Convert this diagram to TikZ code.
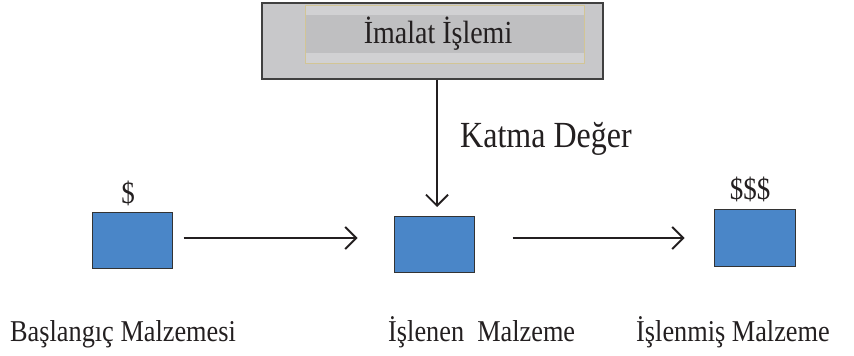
\documentclass[tikz,border=0pt]{standalone}
\usepackage{fontspec}
\setmainfont{Liberation Serif}
\usetikzlibrary{arrows.meta,calc}
\definecolor{txt}{HTML}{231F20}
\definecolor{boxblue}{HTML}{4A86C8}
\definecolor{outergray}{HTML}{C8C8CA}
\definecolor{innerlight}{HTML}{D1D1D3}
\definecolor{innerdark}{HTML}{BFBFC1}
\definecolor{tanedge}{HTML}{D2C595}
\tikzset{
  tall/.style={yscale=1.15},
  bluebox/.style={draw=black!80, line width=1pt, fill=boxblue, minimum width=80pt, minimum height=56pt, inner sep=0pt},
  lbl/.style={text=txt, inner sep=0pt, tall, font=\fontsize{26.3}{30}\selectfont},
  money/.style={text=txt, inner sep=0pt, tall, font=\fontsize{27}{30}\selectfont, anchor=base},
  arr/.style={draw=txt, line width=1.9pt, -{Straight Barb[length=11pt,width=22pt,line width=1.9pt]}}
}
\begin{document}
\begin{tikzpicture}[x=1pt,y=-1pt]
\useasboundingbox (0,0) rectangle (854,356);
% top process box
\node[draw=black!75, line width=1.3pt, fill=outergray, minimum width=341pt, minimum height=76pt, inner sep=0pt] (top) at (432.5,41) {};
\fill[innerlight] (305,5) rectangle (584,63);
\fill[innerdark] (305,15) rectangle (584,53);
\draw[tanedge, line width=1pt] (305,5) rectangle (584,63);
\node[text=txt, inner sep=0pt, anchor=base, tall, font=\fontsize{28}{30}\selectfont] (toptext) at (438,43) {İmalat İşlemi};
% boxes
\node[bluebox] (b1) at (132,240) {};
\node[bluebox] (b2) at (434,244.5) {};
\node[bluebox, minimum width=81pt, minimum height=57pt] (b3) at (754.5,237.5) {};
% money labels
\node[money] (m1) at (128,203) {\$};
\node[money] (m3) at (750,199) {\$\$\$};
% value added label
\node[text=txt, inner sep=0pt, anchor=base west, tall, font=\fontsize{32}{34}\selectfont] (kd) at (460,147) {Katma Değer};
% bottom labels
\node[lbl, anchor=base west] (l1) at (10,341) {Başlangıç Malzemesi};
\node[lbl, anchor=base west] (l2) at (388,341) {İşlenen\ \ Malzeme};
\node[lbl, anchor=base west] (l3) at (636,341) {İşlenmiş Malzeme};
% arrows
\draw[arr] ($(b1.east)+(11,-2)$) -- ($(b2.west)+(-36,-6.5)$);
\draw[arr] ($(b2.east)+(38,-6.5)$) -- ($(b3.west)+(-29,0.5)$);
\draw[arr] ($(top.south)+(4.5,0)$) -- ($(top.south |- b2.north)+(4.5,-9)$);
\end{tikzpicture}
\end{document}
